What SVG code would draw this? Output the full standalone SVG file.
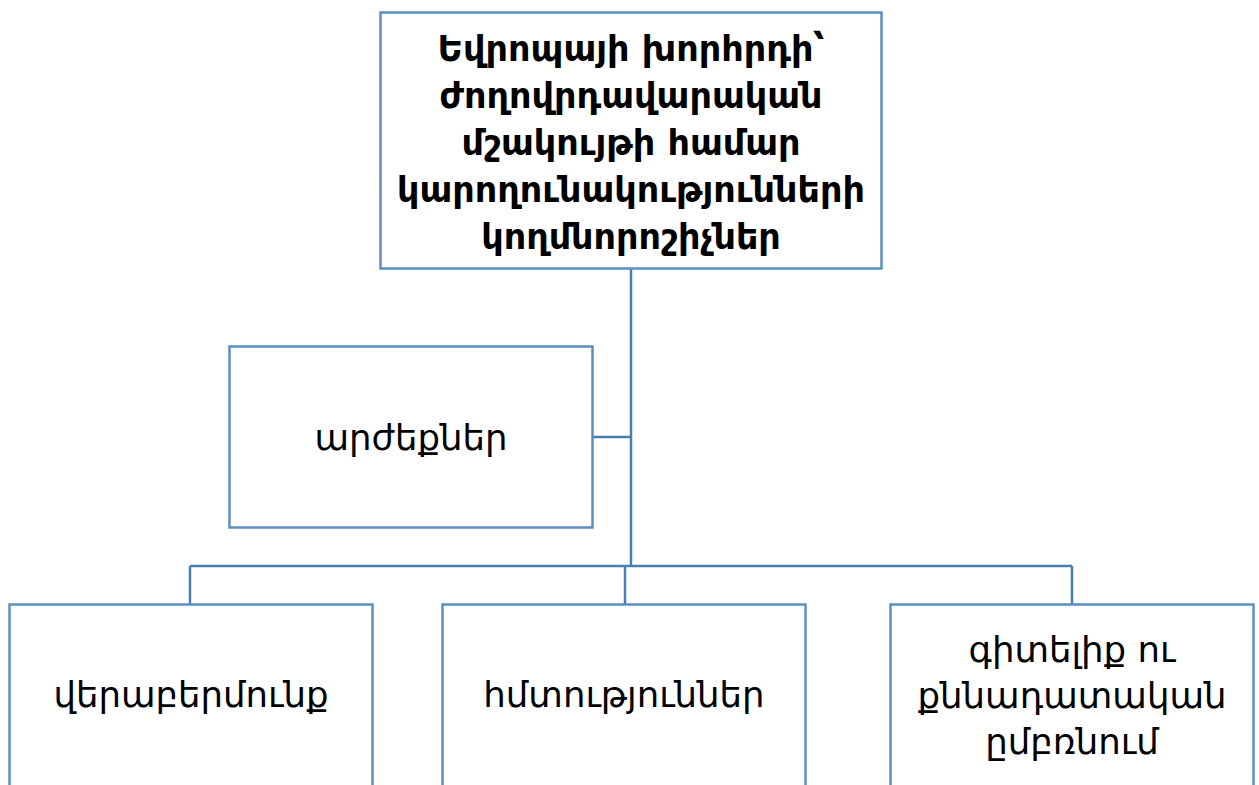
<svg xmlns="http://www.w3.org/2000/svg" width="1259" height="785" viewBox="0 0 1259 785">
<style>
.box{fill:#fff;stroke:#5b8ec3;stroke-width:2.5}
.conn{fill:none;stroke:#4a7eb0;stroke-width:2.5}
.t{font-family:"DejaVu Sans","Noto Sans",sans-serif;font-size:35.5px;fill:#000;text-anchor:middle}
.b{font-weight:bold;font-size:35px}
</style>
<rect width="1259" height="785" fill="#fff"/>
<g id="connectors">
<path class="conn" d="M631 269V566M593 437H631M190 566H1072M190 566V604M625 566V604M1072 566V604"/>
</g>
<g id="root">
<rect class="box" x="380.5" y="12.5" width="501" height="256"/>
<text class="t b" x="631"><tspan x="631" y="61">Եվրոպայի խորհրդի՝</tspan><tspan x="631" y="108">ժողովրդավարական</tspan><tspan x="631" y="155">մշակույթի համար</tspan><tspan x="631" y="202">կարողունակությունների</tspan><tspan x="631" y="249">կողմնորոշիչներ</tspan></text>
</g>
<g id="values">
<rect class="box" x="229.5" y="346.5" width="363" height="181"/>
<text class="t" x="411" y="450">արժեքներ</text>
</g>
<g id="attitudes">
<rect class="box" x="9.5" y="604.5" width="363" height="200"/>
<text class="t" x="191" y="707">վերաբերմունք</text>
</g>
<g id="skills">
<rect class="box" x="442.5" y="604.5" width="363" height="200"/>
<text class="t" x="624" y="707">հմտություններ</text>
</g>
<g id="knowledge">
<rect class="box" x="890.5" y="604.5" width="363" height="200"/>
<text class="t"><tspan x="1072" y="662">գիտելիք ու</tspan><tspan x="1072" y="708">քննադատական</tspan><tspan x="1072" y="754">ըմբռնում</tspan></text>
</g>
</svg>
